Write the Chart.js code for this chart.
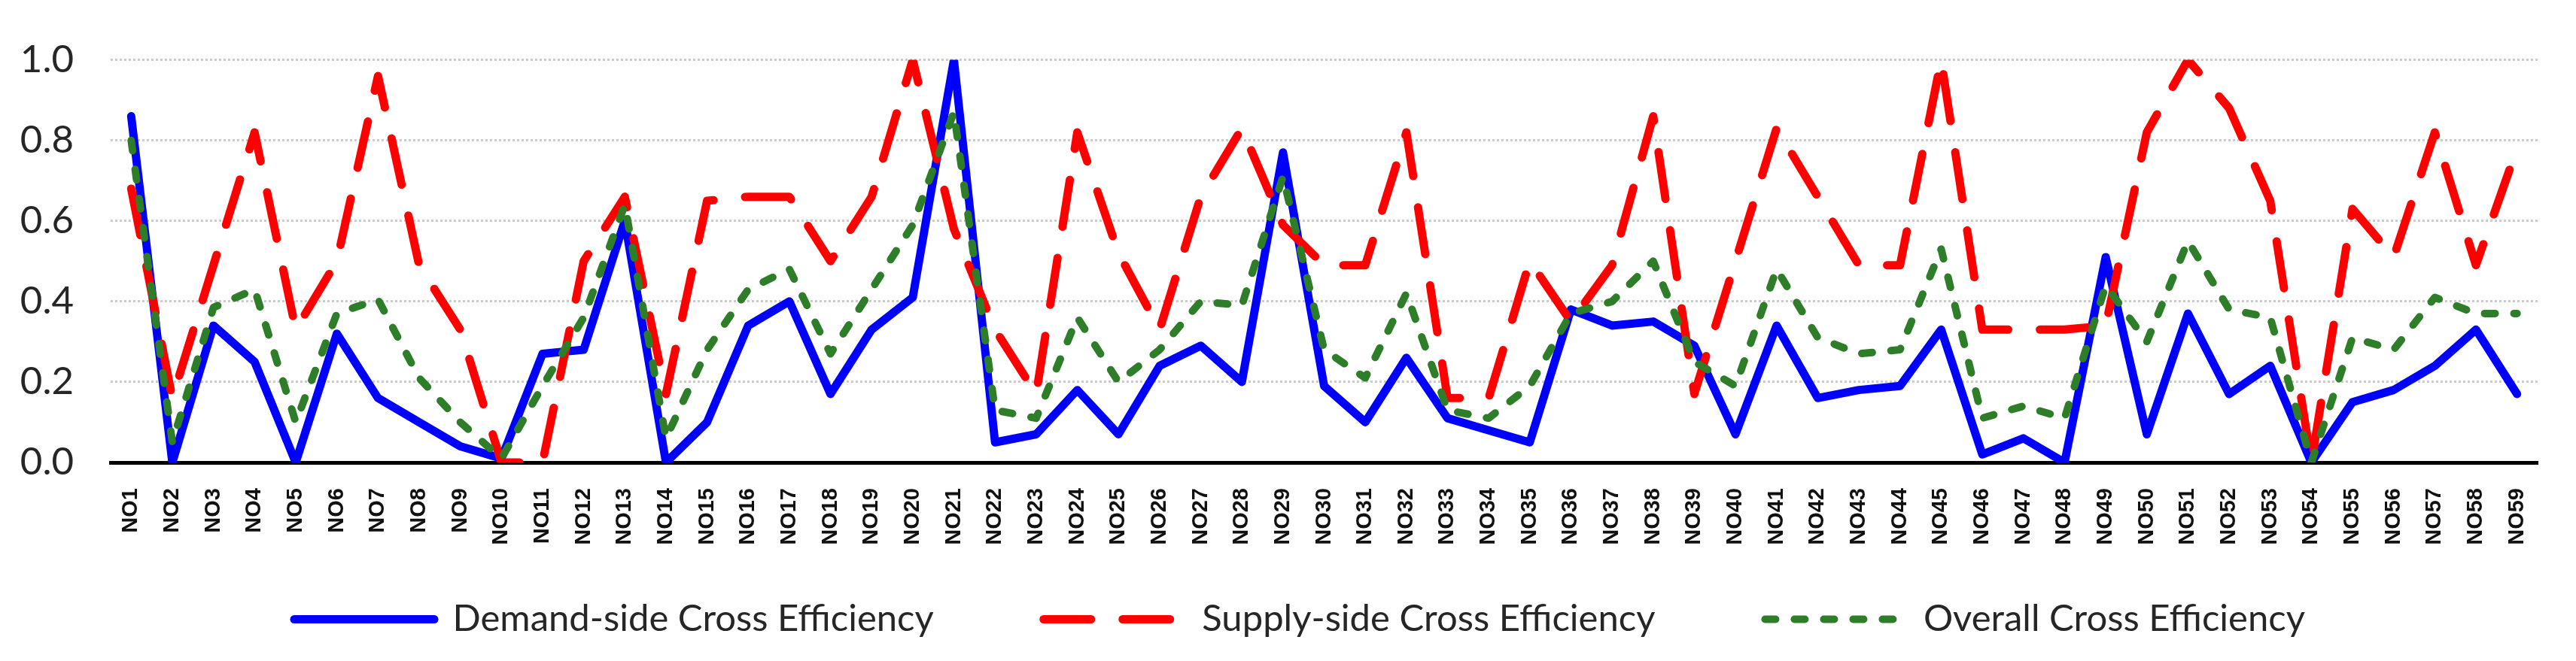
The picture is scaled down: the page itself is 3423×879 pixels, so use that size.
<!DOCTYPE html>
<html>
<head>
<meta charset="utf-8">
<script src="https://cdn.jsdelivr.net/npm/chart.js@4.4.0/dist/chart.umd.min.js"></script>
<style>
  html, body { margin: 0; padding: 0; background: #ffffff; }
  #wrap { width: 3423px; height: 879px; position: relative; }
</style>
</head>
<body>
<div id="wrap"><canvas id="lineChart"></canvas></div>
<script>
// Categories NO1 ... NO59
const categories = [
  'NO1', 'NO2', 'NO3', 'NO4', 'NO5', 'NO6', 'NO7', 'NO8', 'NO9', 'NO10',
  'NO11', 'NO12', 'NO13', 'NO14', 'NO15', 'NO16', 'NO17', 'NO18', 'NO19', 'NO20',
  'NO21', 'NO22', 'NO23', 'NO24', 'NO25', 'NO26', 'NO27', 'NO28', 'NO29', 'NO30',
  'NO31', 'NO32', 'NO33', 'NO34', 'NO35', 'NO36', 'NO37', 'NO38', 'NO39', 'NO40',
  'NO41', 'NO42', 'NO43', 'NO44', 'NO45', 'NO46', 'NO47', 'NO48', 'NO49', 'NO50',
  'NO51', 'NO52', 'NO53', 'NO54', 'NO55', 'NO56', 'NO57', 'NO58', 'NO59'
];

const demandSide = [
  0.86, 0.00, 0.34, 0.25, 0.00, 0.32, 0.16, 0.10, 0.04, 0.01,
  0.27, 0.28, 0.60, 0.00, 0.10, 0.34, 0.40, 0.17, 0.33, 0.41,
  1.00, 0.05, 0.07, 0.18, 0.07, 0.24, 0.29, 0.20, 0.77, 0.19,
  0.10, 0.26, 0.11, 0.08, 0.05, 0.38, 0.34, 0.35, 0.29, 0.07,
  0.34, 0.16, 0.18, 0.19, 0.33, 0.02, 0.06, 0.00, 0.51, 0.07,
  0.37, 0.17, 0.24, 0.00, 0.15, 0.18, 0.24, 0.33, 0.17
];

const supplySide = [
  0.68, 0.16, 0.49, 0.82, 0.33, 0.50, 0.96, 0.49, 0.33, 0.00,
  0.00, 0.50, 0.66, 0.17, 0.65, 0.66, 0.66, 0.50, 0.66, 1.00,
  0.58, 0.33, 0.17, 0.82, 0.52, 0.33, 0.66, 0.83, 0.59, 0.49,
  0.49, 0.82, 0.16, 0.16, 0.50, 0.35, 0.49, 0.86, 0.17, 0.50,
  0.83, 0.66, 0.49, 0.49, 1.00, 0.33, 0.33, 0.33, 0.34, 0.82,
  1.00, 0.88, 0.65, 0.00, 0.63, 0.51, 0.82, 0.49, 0.78
];

const overall = [
  0.80, 0.05, 0.385, 0.43, 0.10, 0.37, 0.405, 0.21, 0.10, 0.01,
  0.19, 0.36, 0.64, 0.06, 0.28, 0.43, 0.48, 0.27, 0.43, 0.59,
  0.87, 0.13, 0.11, 0.36, 0.20, 0.28, 0.40, 0.39, 0.71, 0.28,
  0.21, 0.42, 0.13, 0.11, 0.19, 0.37, 0.40, 0.50, 0.25, 0.19,
  0.48, 0.31, 0.27, 0.28, 0.53, 0.11, 0.14, 0.11, 0.44, 0.30,
  0.55, 0.38, 0.36, 0.00, 0.31, 0.28, 0.41, 0.37, 0.37
];

const seriesNames = [
  'Demand-side Cross Efficiency',
  'Supply-side Cross Efficiency',
  'Overall Cross Efficiency'
];

const yTicks = [0, 0.2, 0.4, 0.6, 0.8, 1.0];

// the legend row sits lower and a bit right of where Chart.js would put it
const legendPlacement = {
  id: 'legendPlacement',
  afterLayout(chart) {
    const legend = chart.legend;
    const dy = legend.top + legend.options.labels.padding - 799;
    const dx = 41;
    legend.top -= dy;
    legend.height = legend.bottom - legend.top;
    legend.left += dx;
    legend.right += dx;
  },
};

// point-style legend items lose the dataset dash, so put it back
function legendLabels(chart) {
  const items = Chart.defaults.plugins.legend.labels.generateLabels(chart);
  items.forEach(item => {
    const ds = chart.data.datasets[item.datasetIndex];
    item.lineDash = ds.borderDash || [];
    item.lineWidth = ds.borderWidth;
    item.lineCap = ds.borderCapStyle;
    item.strokeStyle = ds.borderColor;
  });
  return items;
}

function createLineChart(chartId) {
  const ctx = document.getElementById(chartId).getContext('2d');

  const chartData = {
    labels: categories,
    datasets: [
      {
        label: seriesNames[0],
        data: demandSide,
        borderColor: '#0000ff',
        backgroundColor: '#0000ff',
        borderWidth: 11,
        borderJoinStyle: 'round',
        borderCapStyle: 'round',
        order: 3,
      },
      {
        label: seriesNames[1],
        data: supplySide,
        borderColor: '#ff0000',
        backgroundColor: '#ff0000',
        borderWidth: 11,
        borderDash: [63, 42],
        borderJoinStyle: 'round',
        borderCapStyle: 'round',
        order: 2,
      },
      {
        label: seriesNames[2],
        data: overall,
        borderColor: '#2e7d28',
        backgroundColor: '#2e7d28',
        borderWidth: 10,
        borderDash: [14, 25],
        borderJoinStyle: 'round',
        borderCapStyle: 'round',
        order: 1,
      },
    ],
  };

  const options = {
    responsive: true,
    maintainAspectRatio: false,
    devicePixelRatio: 1,
    animation: false,
    layout: {
      padding: { top: 62, right: 51, bottom: 0, left: 0 },
    },
    elements: {
      point: { radius: 0, hoverRadius: 0 },
      line: { tension: 0, fill: false },
    },
    scales: {
      x: {
        offset: true,
        grid: { display: false },
        border: { display: true, color: '#000000', width: 5 },
        ticks: {
          autoSkip: false,
          minRotation: 90,
          maxRotation: 90,
          padding: 26,
          color: '#111111',
          font: { family: 'Liberation Sans', size: 29, weight: 'bold' },
        },
        afterFit: function (scale) {
          scale.height = 110;
        },
      },
      y: {
        min: 0,
        max: 1,
        afterBuildTicks: function (scale) {
          scale.ticks = yTicks.map(v => ({ value: v }));
        },
        grid: {
          drawTicks: false,
          lineWidth: 3,
          color: c => (c.tick && c.tick.value === 0 ? 'rgba(0,0,0,0)' : '#cccccc'),
        },
        border: { display: false, dash: [3, 3] },
        ticks: {
          padding: 49,
          color: '#262626',
          font: { family: 'Lato', size: 51 },
          callback: value => Number(value).toFixed(1),
        },
        afterFit: function (scale) {
          scale.width = 147;
        },
      },
    },
    plugins: {
      tooltip: { enabled: false },
      legend: {
        position: 'bottom',
        maxHeight: 154,
        labels: {
          usePointStyle: true,
          pointStyle: 'line',
          pointStyleWidth: 186,
          padding: 146,
          color: '#262626',
          font: { family: 'Lato', size: 49 },
          generateLabels: legendLabels,
          sort: (a, b) => a.datasetIndex - b.datasetIndex,
        },
      },
    },
  };

  return new Chart(ctx, {
    type: 'line',
    data: chartData,
    options: options,
    plugins: [legendPlacement],
  });
}

createLineChart('lineChart');
</script>
</body>
</html>
